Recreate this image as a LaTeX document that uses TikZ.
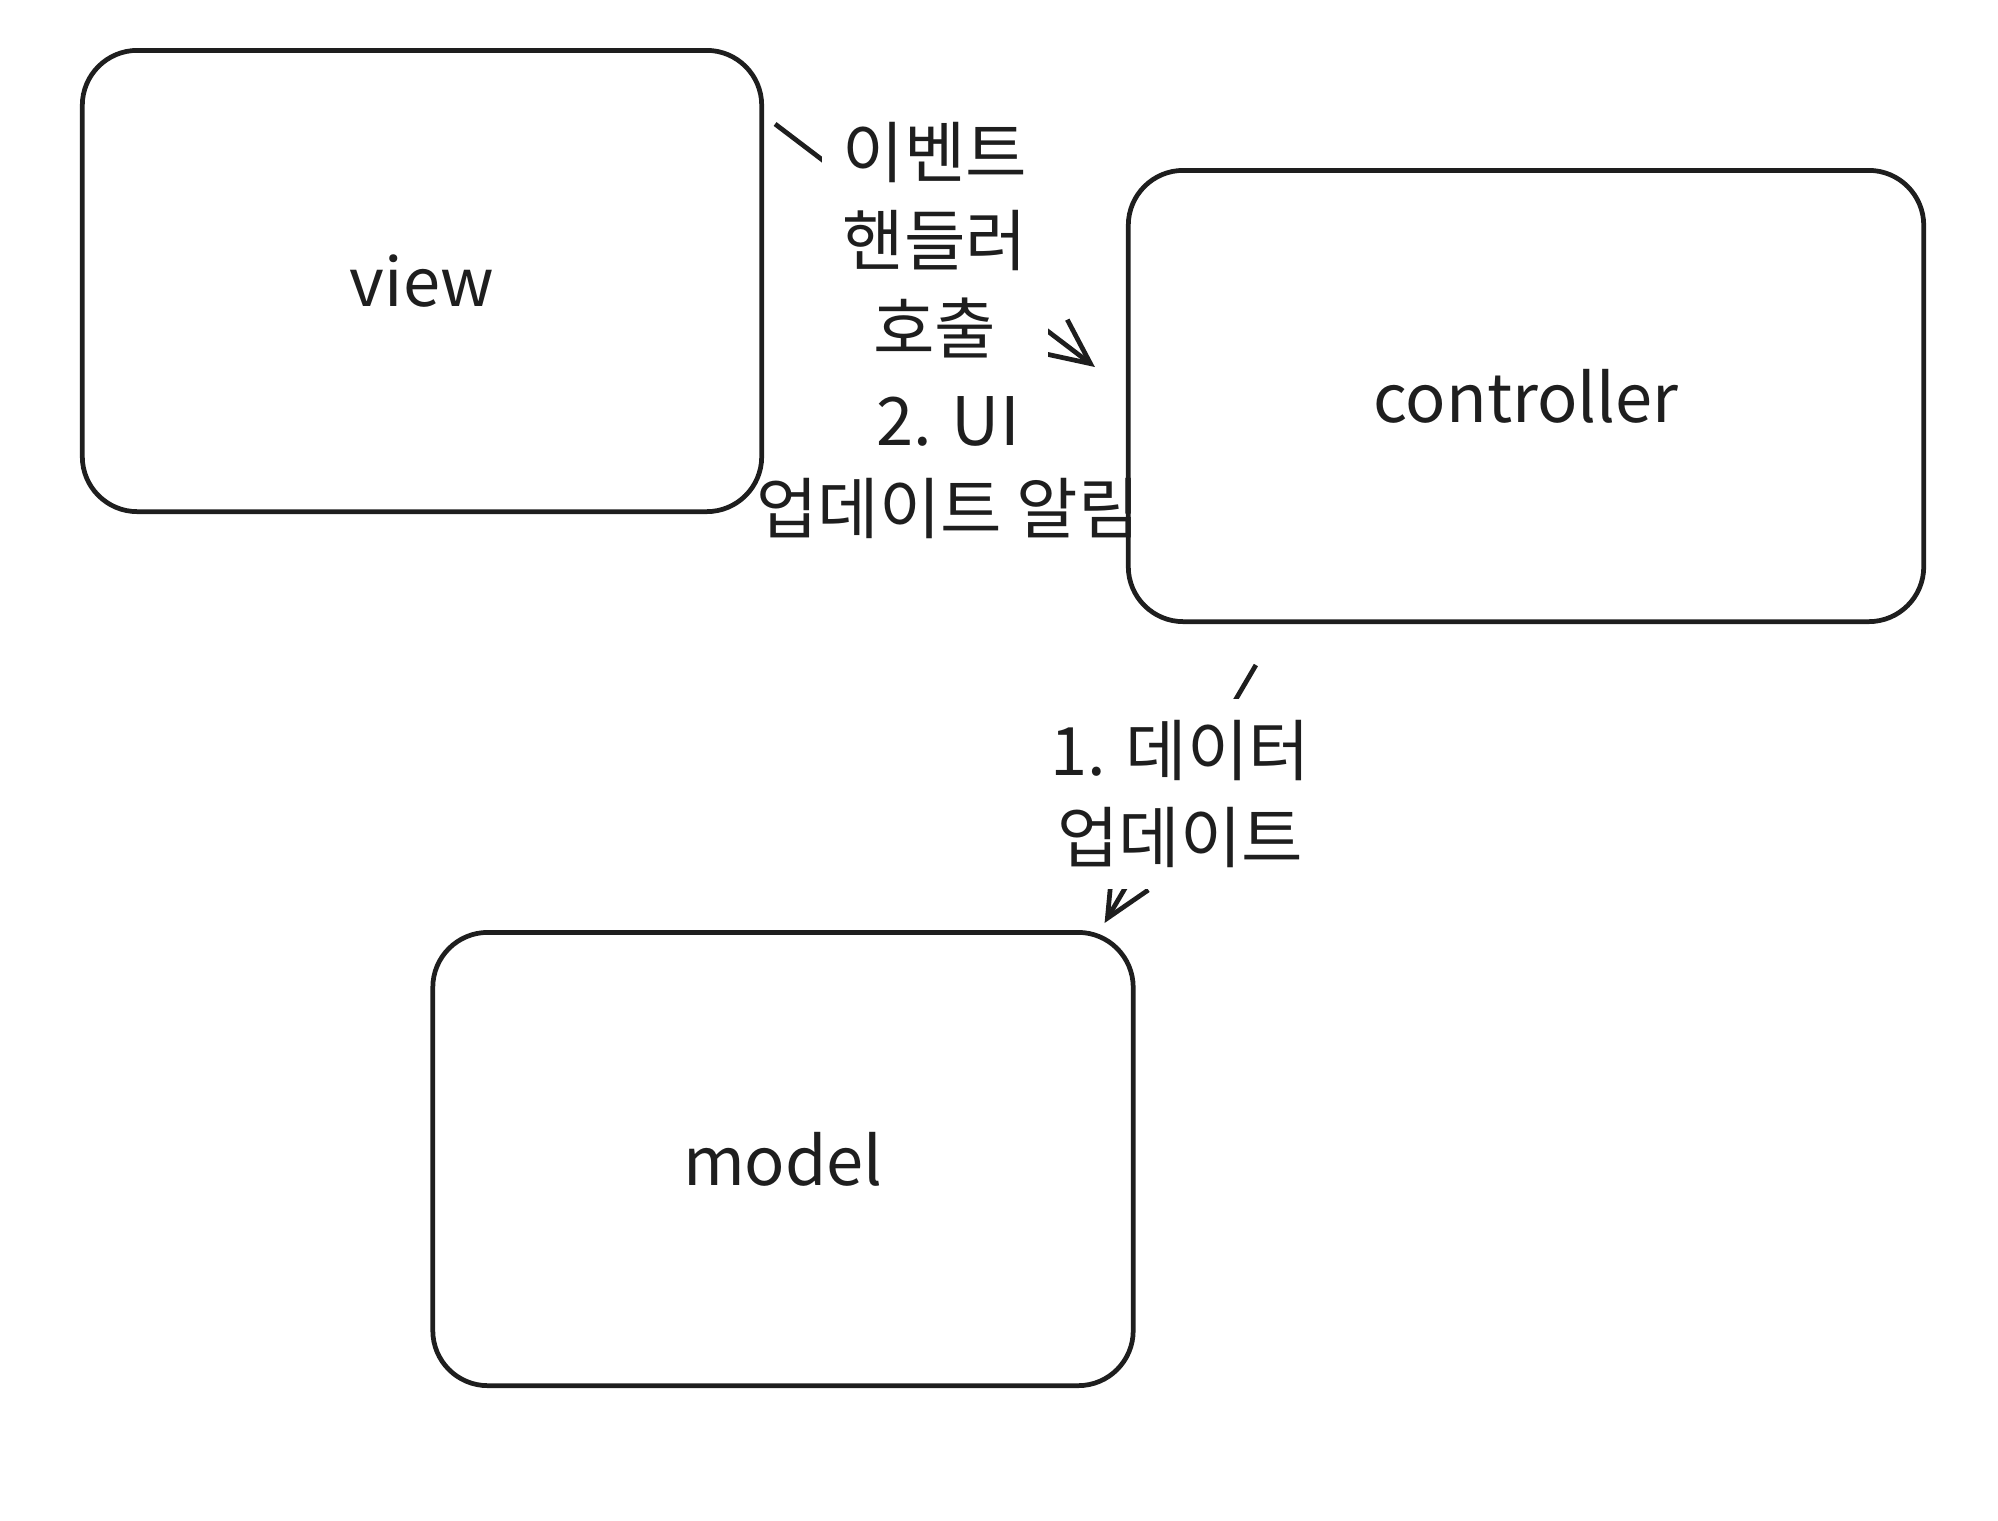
\documentclass[tikz,border=0pt]{standalone}
\usepackage{fontspec}
\setmainfont{Noto Sans CJK KR}
\usetikzlibrary{arrows.meta, positioning, calc}
\definecolor{ink}{HTML}{1E1E1E}

\begin{document}
\begin{tikzpicture}[
    x=0.01cm, y=-0.01cm,
    txt/.style={font=\fontsize{19}{25}\selectfont, text=ink},
    box/.style={txt, draw=ink, line width=1.35pt, rounded corners=0.55cm, inner sep=0pt},
    arr/.style={-{Straight Barb[length=0.45cm, width=0.42cm]}, draw=ink, line width=1.35pt},
    elabel/.style={txt, fill=white, inner sep=6pt, align=center},
    note/.style={txt, inner sep=0pt, align=center},
]
\useasboundingbox (0,0) rectangle (1998,1520);

% ── Components ──
\node[box, minimum width=6.79cm, minimum height=4.61cm] (view) at (422,281) {view};
\node[box, minimum width=7.95cm, minimum height=4.51cm] (ctrl) at (1526,396) {controller};
\node[box, minimum width=7.00cm, minimum height=4.53cm] (model) at (783,1159) {model};

% ── Arrow ends ──
\coordinate (v1) at ($(view.north east)+(11,76)$);
\coordinate (c1) at ($(ctrl.west)+(-31,-29)$);
\coordinate (c2) at ($(ctrl.south west)+(130,41)$);
\coordinate (m1) at ($(model.north east)+(-31,-7)$);

% ── Arrows with labels ──
\draw[arr] (v1) -- node[elabel, midway, yshift=0.05cm] {이벤트\\핸들러\\호출} (c1);
\draw[arr] (c2) -- node[elabel, midway] {1. 데이터\\업데이트} (m1);

% ── Free note ──
\node[note] (uinote) at (948,468) {2. UI\\업데이트 알림};

\end{tikzpicture}
\end{document}
